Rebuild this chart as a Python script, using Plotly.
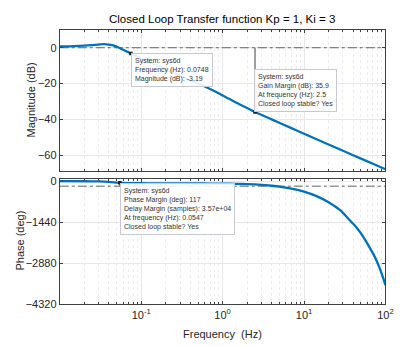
import math
import plotly.graph_objects as go

# ---------------- data ----------------
freq_mag = [0.01, 0.015, 0.02, 0.025, 0.03, 0.035, 0.04, 0.045, 0.05, 0.055,
            0.06, 0.065, 0.07, 0.0748, 0.085, 0.1, 0.13, 0.17, 0.22, 0.3,
            0.4, 0.56, 0.8, 1.1, 1.5, 2.0, 2.5, 4.0, 7.0, 10.0, 20.0, 40.0,
            70.0, 100.0]
mag_db = [0.7, 0.9, 1.2, 1.5, 1.8, 2.0, 1.8, 1.3, 0.6, -0.3,
          -1.1, -1.9, -2.6, -3.19, -4.4, -5.9, -8.2, -10.6, -12.9, -15.6,
          -18.1, -20.9, -24.3, -27.6, -30.9, -33.6, -35.9, -40.0, -44.9, -48.0,
          -54.0, -60.0, -64.8, -67.8]

freq_ph = [0.01, 0.02, 0.03, 0.04, 0.0547, 0.07, 0.1, 0.15, 0.2, 0.3, 0.5,
           0.7, 1.0, 1.5, 2.0, 3.0, 4.0, 5.0, 7.0, 10.0, 14.0, 20.0, 28.0,
           35.0, 42.0, 50.0, 57.0, 64.0, 71.0, 78.0, 85.0, 92.0, 100.0]
phase_deg = [-3, -8, -15, -30, -63, -72, -78, -80, -82, -84, -86,
             -88, -92, -100, -110, -135, -165, -195, -265, -370, -520, -740, -1030,
             -1320, -1560, -1835, -2090, -2330, -2560, -2800, -3060, -3330, -3650]

mag_ticks = [0, -20, -40, -60]
phase_ticks = [0, -1440, -2880, -4320]
freq_ticks = [0.1, 1, 10, 100]
freq_ticktext = ["10<sup>-1</sup>", "10<sup>0</sup>", "10<sup>1</sup>", "10<sup>2</sup>"]
minor_freqs = [k * 10.0 ** d for d in range(-2, 2) for k in range(2, 10)]

# margins / data tips
bw_freq, bw_mag = 0.0748, -3.19
gm_freq, gm_db = 2.5, -35.9
pm_freq, pm_value = 0.0547, 117
pm_phase = -180 + pm_value
ref_db = 0
ref_phase = -180
f_lo, f_hi = 0.01, 100

tip1_text = "System: sys6d<br>Frequency (Hz): 0.0748<br>Magnitude (dB): -3.19"
tip2_text = "System: sys6d<br>Gain Margin (dB): 35.9<br>At frequency (Hz): 2.5<br>Closed loop stable? Yes"
tip3_text = ("System: sys6d<br>Phase Margin (deg): 117<br>Delay Margin (samples): 3.57e+04"
             "<br>At frequency (Hz): 0.0547<br>Closed loop stable? Yes")

# ---------------- figure ----------------
W, H = 402, 347
blue = "#0072BD"
axc = "#404040"
font = "Liberation Sans, Arial, sans-serif"

fig = go.Figure()

# reference lines
fig.add_trace(go.Scatter(x=[f_lo, f_hi], y=[ref_db, ref_db], mode="lines",
                         line=dict(color="#404040", width=0.8, dash="dashdot"),
                         xaxis="x", yaxis="y", hoverinfo="skip"))
fig.add_trace(go.Scatter(x=[f_lo, f_hi], y=[ref_phase, ref_phase], mode="lines",
                         line=dict(color="#404040", width=0.8, dash="dashdot"),
                         xaxis="x2", yaxis="y2", hoverinfo="skip"))
# gain margin vertical line
fig.add_trace(go.Scatter(x=[gm_freq, gm_freq], y=[ref_db, gm_db], mode="lines",
                         line=dict(color="#404040", width=1),
                         xaxis="x", yaxis="y", hoverinfo="skip"))
# phase margin vertical line
fig.add_trace(go.Scatter(x=[pm_freq, pm_freq], y=[ref_phase, pm_phase], mode="lines",
                         line=dict(color="#404040", width=1),
                         xaxis="x2", yaxis="y2", hoverinfo="skip"))

# curves
fig.add_trace(go.Scatter(x=freq_mag, y=mag_db, mode="lines",
                         line=dict(color=blue, width=2.3, shape="spline", smoothing=0.6),
                         xaxis="x", yaxis="y"))
fig.add_trace(go.Scatter(x=freq_ph, y=phase_deg, mode="lines",
                         line=dict(color=blue, width=2.3, shape="spline", smoothing=0.6),
                         xaxis="x2", yaxis="y2"))

# data tip markers
fig.add_trace(go.Scatter(x=[bw_freq, gm_freq], y=[bw_mag, gm_db], mode="markers",
                         marker=dict(color="#202020", size=3.5, symbol="square"),
                         xaxis="x", yaxis="y"))
fig.add_trace(go.Scatter(x=[pm_freq], y=[pm_phase], mode="markers",
                         marker=dict(color="#202020", size=3.5, symbol="square"),
                         xaxis="x2", yaxis="y2"))

xdom = [61 / W, 393.3 / W]
ydom_top = [1 - 172.3 / H, 1 - 26.6 / H]
ydom_bot = [1 - 309.3 / H, 1 - 180 / H]

common_x = dict(type="log", range=[-2, 2], domain=xdom, showline=True, linecolor=axc,
                linewidth=1, mirror="ticks", ticks="inside", ticklen=3, tickcolor=axc,
                showgrid=True, gridcolor="#e8e8e8", gridwidth=1, zeroline=False,
                tickvals=freq_ticks,
                minor=dict(tickvals=minor_freqs, ticks="inside", ticklen=2, tickcolor=axc,
                           showgrid=True, gridcolor="#ededed", griddash="dot", gridwidth=1))
common_y = dict(showline=True, linecolor=axc, linewidth=1, mirror="ticks",
                ticks="inside", ticklen=3, tickcolor=axc, showgrid=True,
                gridcolor="#e8e8e8", zeroline=False,
                tickfont=dict(family=font, size=11, color="#262626"))

fig.update_layout(
    width=W, height=H, margin=dict(l=0, r=0, t=0, b=0),
    paper_bgcolor="white", plot_bgcolor="white", showlegend=False,
    font=dict(family=font, color="#262626"),
    xaxis=dict(common_x, anchor="y", showticklabels=False),
    xaxis2=dict(common_x, anchor="y2", matches="x", ticktext=freq_ticktext,
                tickfont=dict(family=font, size=11, color="#262626")),
    yaxis=dict(common_y, domain=ydom_top, anchor="x", range=[-69, 10],
               tickvals=mag_ticks),
    yaxis2=dict(common_y, domain=ydom_bot, anchor="x2", range=[-4320, 78],
                tickvals=phase_ticks),
)

ann = []
ann.append(dict(text="Closed Loop Transfer function Kp = 1, Ki = 3", xref="paper", yref="paper",
                x=226.7 / W, y=1 - 15.7 / H, showarrow=False, xanchor="center", yanchor="middle",
                font=dict(family=font, size=11.5, color="#000000")))
ann.append(dict(text="Magnitude (dB)", xref="paper", yref="paper", x=32 / W, y=1 - 99 / H,
                showarrow=False, textangle=-90, xanchor="center", yanchor="middle",
                font=dict(family=font, size=11, color="#262626")))
ann.append(dict(text="Phase (deg)", xref="paper", yref="paper", x=20 / W, y=1 - 244 / H,
                showarrow=False, textangle=-90, xanchor="center", yanchor="middle",
                font=dict(family=font, size=11, color="#262626")))
ann.append(dict(text="Frequency  (Hz)", xref="paper", yref="paper", x=227 / W, y=1 - 340 / H,
                showarrow=False, xanchor="center", yanchor="middle",
                font=dict(family=font, size=11, color="#262626")))

tip_style = dict(showarrow=False, align="left", bgcolor="rgba(255,255,255,0.9)",
                 bordercolor="#c9c9d2", borderwidth=1, borderpad=3,
                 font=dict(family=font, size=7, color="#333333"))
ann.append(dict(tip_style, text=tip1_text, xref="x", yref="y", x=math.log10(bw_freq), y=bw_mag,
                xanchor="left", yanchor="top"))
ann.append(dict(tip_style, text=tip2_text, xref="x", yref="y", x=math.log10(gm_freq), y=gm_db,
                xanchor="left", yanchor="bottom", xshift=-1))
ann.append(dict(tip_style, text=tip3_text, xref="x2", yref="y2", x=math.log10(pm_freq), y=pm_phase,
                xanchor="left", yanchor="top"))
fig.update_layout(annotations=ann)

fig.write_html("out.html")
